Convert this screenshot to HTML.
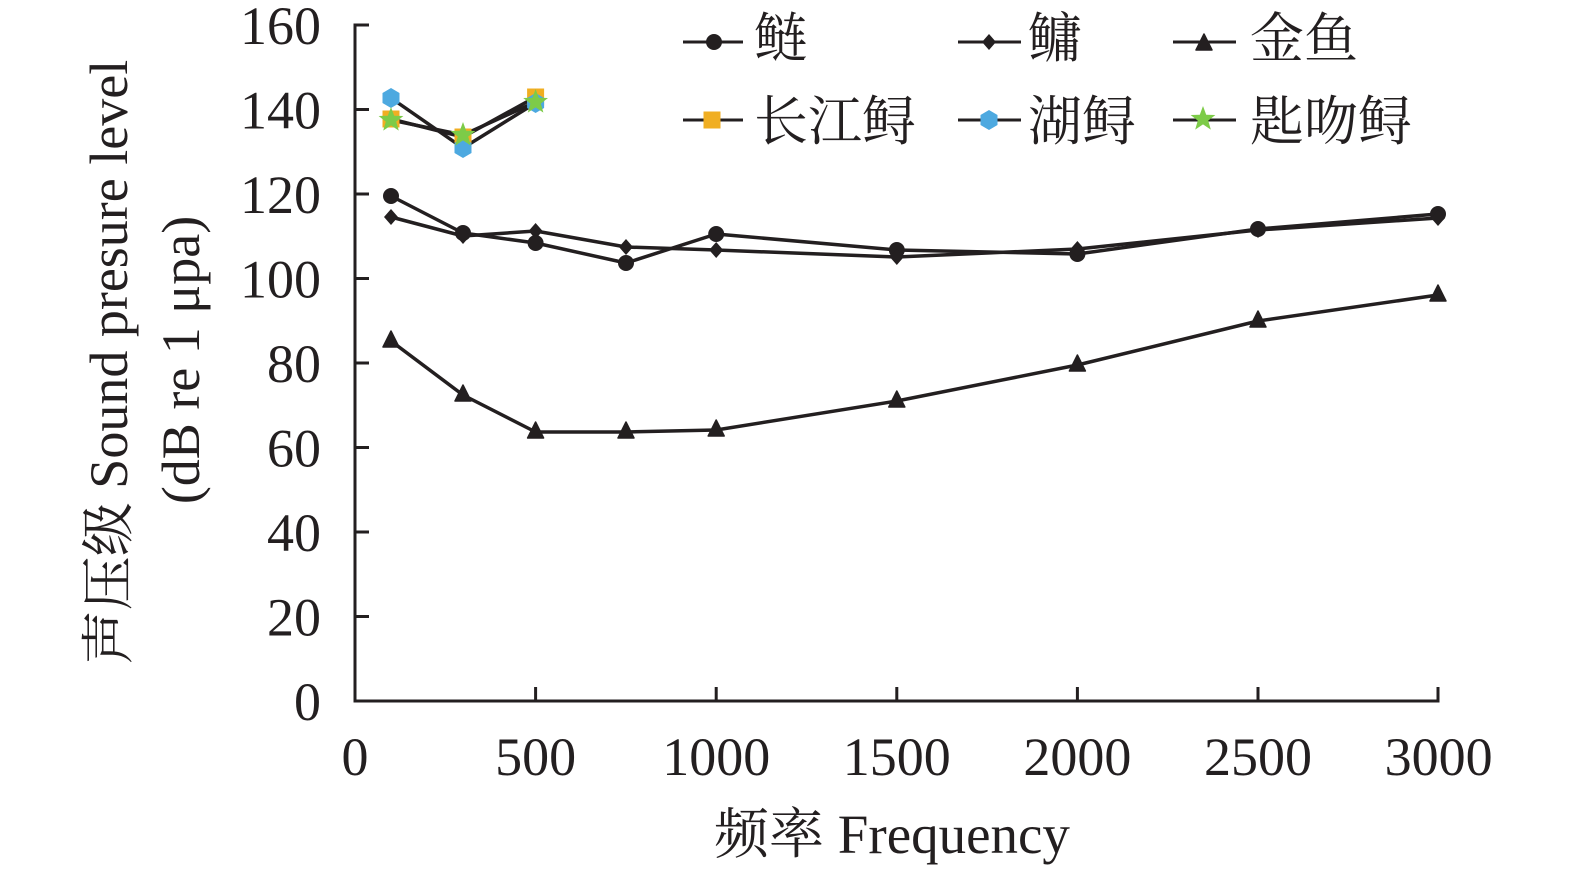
<!DOCTYPE html>
<html>
<head>
<meta charset="utf-8">
<style>
html,body{margin:0;padding:0;background:#fff;}
svg{display:block;}
.t{font-family:"Liberation Serif","Noto Serif CJK SC",serif;fill:#231F20;}
</style>
</head>
<body>
<svg width="1575" height="871" viewBox="0 0 1575 871" xmlns="http://www.w3.org/2000/svg">
<defs>
  <circle id="mc" r="8" fill="#231F20"/>
  <polygon id="md" points="0,-8 7,0 0,8 -7,0" fill="#231F20"/>
  <polygon id="mt" points="0,-10 8,6 -8,6" fill="#231F20" stroke="#231F20" stroke-width="1.5" stroke-linejoin="round"/>
  <rect id="ms" x="-8.5" y="-8.5" width="17" height="17" fill="#F0AE22"/>
  <polygon id="mh" points="0,-10 8.5,-5 8.5,5 0,10 -8.5,5 -8.5,-5" fill="#4DA9E0"/>
  <polygon id="mst" points="0,-13 3.2,-4.3 12.4,-4 5.2,1.6 7.8,10.6 0,5.4 -7.8,10.6 -5.2,1.6 -12.4,-4 -3.2,-4.3" fill="#7DCB48"/>
</defs>

<!-- axes -->
<g stroke="#231F20" stroke-width="3" fill="none">
  <polyline points="369,25 355,25 355,701 1438,701 1438,687"/>
  <line x1="355" y1="109.5" x2="369" y2="109.5"/>
  <line x1="355" y1="194" x2="369" y2="194"/>
  <line x1="355" y1="278.5" x2="369" y2="278.5"/>
  <line x1="355" y1="363" x2="369" y2="363"/>
  <line x1="355" y1="447.5" x2="369" y2="447.5"/>
  <line x1="355" y1="532" x2="369" y2="532"/>
  <line x1="355" y1="616.5" x2="369" y2="616.5"/>
  <line x1="535.6" y1="701" x2="535.6" y2="687"/>
  <line x1="716.2" y1="701" x2="716.2" y2="687"/>
  <line x1="896.8" y1="701" x2="896.8" y2="687"/>
  <line x1="1077.4" y1="701" x2="1077.4" y2="687"/>
  <line x1="1258" y1="701" x2="1258" y2="687"/>
</g>

<!-- y tick labels -->
<g class="t" font-size="54" text-anchor="end">
  <text x="321" y="44">160</text>
  <text x="321" y="128.5">140</text>
  <text x="321" y="213">120</text>
  <text x="321" y="297.5">100</text>
  <text x="321" y="382">80</text>
  <text x="321" y="466.5">60</text>
  <text x="321" y="551">40</text>
  <text x="321" y="635.5">20</text>
  <text x="321" y="720">0</text>
</g>

<!-- x tick labels -->
<g class="t" font-size="54" text-anchor="middle">
  <text x="355" y="775">0</text>
  <text x="535.6" y="775">500</text>
  <text x="716.2" y="775">1000</text>
  <text x="896.8" y="775">1500</text>
  <text x="1077.4" y="775">2000</text>
  <text x="1258" y="775">2500</text>
  <text x="1438.6" y="775">3000</text>
</g>

<!-- axis titles -->
<text class="t" font-size="55" x="892" y="853" text-anchor="middle">频率 Frequency</text>
<g transform="translate(127,362) rotate(-90)">
  <text class="t" font-size="54" x="0" y="0" text-anchor="middle">声压级 Sound presure level</text>
</g>
<g transform="translate(199,360) rotate(-90)">
  <text class="t" font-size="54" x="0" y="0" text-anchor="middle">(dB re 1 μpa)</text>
</g>

<!-- series lines -->
<g stroke="#231F20" stroke-width="3.5" fill="none" stroke-linejoin="round">
  <polyline points="391,196 463,233 535.6,243 626,263 716.2,234 896.8,250 1077.4,254 1258,229 1438,214"/>
  <polyline points="391,217 463,236 535.6,231 626,247 716.2,250 896.8,257 1077.4,249 1258,230 1438,218"/>
  <polyline points="391,341 463,395 535.6,432 626,432 716.2,430 896.8,401 1077.4,365 1258,321 1438,295"/>
  <polyline points="391,119 463,137 535.6,97"/>
  <polyline points="391,98 463,148 535.6,103"/>
  <polyline points="391,120 463,135 535.6,102"/>
</g>

<!-- markers -->
<g>
  <use href="#mc" x="391" y="196"/><use href="#mc" x="463" y="233"/><use href="#mc" x="535.6" y="243"/>
  <use href="#mc" x="626" y="263"/><use href="#mc" x="716.2" y="234"/><use href="#mc" x="896.8" y="250"/>
  <use href="#mc" x="1077.4" y="254"/><use href="#mc" x="1258" y="229"/><use href="#mc" x="1438" y="214"/>

  <use href="#md" x="391" y="217"/><use href="#md" x="463" y="236"/><use href="#md" x="535.6" y="231"/>
  <use href="#md" x="626" y="247"/><use href="#md" x="716.2" y="250"/><use href="#md" x="896.8" y="257"/>
  <use href="#md" x="1077.4" y="249"/><use href="#md" x="1258" y="230"/><use href="#md" x="1438" y="218"/>

  <use href="#mt" x="391" y="341"/><use href="#mt" x="463" y="395"/><use href="#mt" x="535.6" y="432"/>
  <use href="#mt" x="626" y="432"/><use href="#mt" x="716.2" y="430"/><use href="#mt" x="896.8" y="401"/>
  <use href="#mt" x="1077.4" y="365"/><use href="#mt" x="1258" y="321"/><use href="#mt" x="1438" y="295"/>

  <use href="#ms" x="391" y="119"/><use href="#ms" x="463" y="137"/><use href="#ms" x="535.6" y="97"/>
  <use href="#mh" x="391" y="98"/><use href="#mh" x="463" y="148"/><use href="#mh" x="535.6" y="103"/>
  <use href="#mst" x="391" y="120"/><use href="#mst" x="463" y="135"/><use href="#mst" x="535.6" y="102"/>
</g>

<!-- legend -->
<g stroke="#231F20" stroke-width="3" fill="none">
  <line x1="683" y1="42" x2="743" y2="42"/>
  <line x1="958" y1="42" x2="1021" y2="42"/>
  <line x1="1173" y1="42" x2="1236" y2="42"/>
  <line x1="683" y1="120" x2="743" y2="120"/>
  <line x1="958" y1="120" x2="1021" y2="120"/>
  <line x1="1173" y1="120" x2="1236" y2="120"/>
</g>
<use href="#mc" x="714" y="42"/>
<use href="#md" x="989" y="42"/>
<use href="#mt" x="1204" y="44"/>
<use href="#ms" x="712" y="120"/>
<use href="#mh" x="989" y="120"/>
<use href="#mst" x="1203" y="119"/>
<g class="t" font-size="54">
  <text x="754" y="57">鲢</text>
  <text x="1028" y="57">鳙</text>
  <text x="1250" y="57">金鱼</text>
  <text x="754" y="140">长江鲟</text>
  <text x="1028" y="140">湖鲟</text>
  <text x="1250" y="140">匙吻鲟</text>
</g>
</svg>
</body>
</html>
